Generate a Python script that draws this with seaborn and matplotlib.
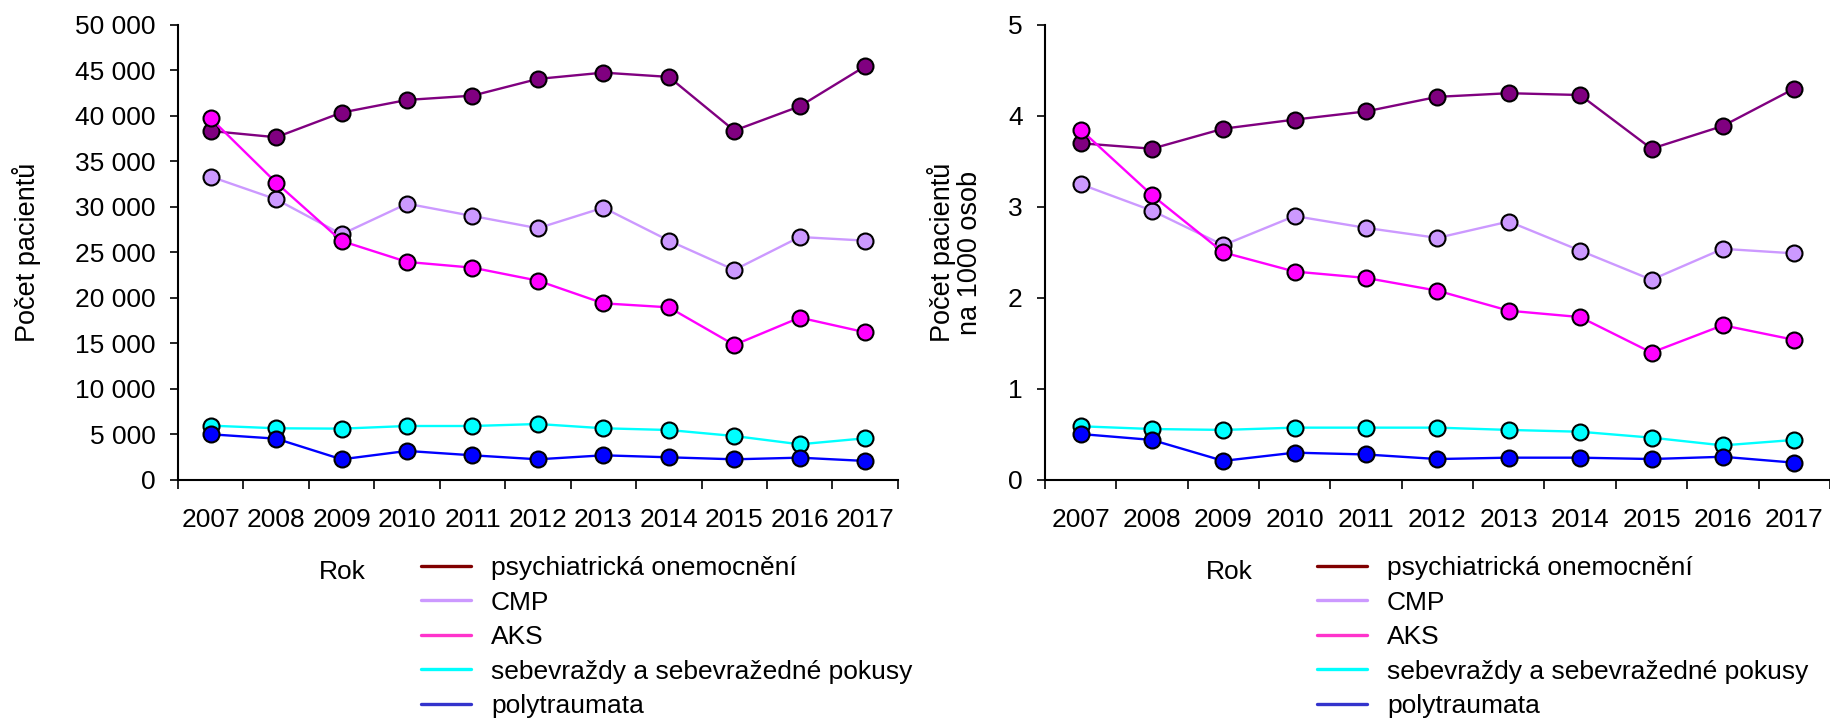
import numpy as np
import pandas as pd
import matplotlib
matplotlib.use("Agg")
import matplotlib.pyplot as plt
import seaborn as sns
from matplotlib.lines import Line2D
from matplotlib.ticker import FuncFormatter

roky = list(range(2007, 2018))
kategorie = ["psychiatrická onemocnění", "CMP", "AKS",
             "sebevraždy a sebevražedné pokusy", "polytraumata"]

# absolutni pocty pacientu
psych_pocet = [38350, 37660, 40370, 41760, 42230, 44070, 44760, 44290, 38390, 41060, 45460]
cmp_pocet = [33330, 30840, 27000, 30360, 29010, 27660, 29920, 26300, 23080, 26700, 26300]
aks_pocet = [39740, 32670, 26260, 23960, 23330, 21900, 19410, 18970, 14840, 17840, 16230]
sebevr_pocet = [5970, 5680, 5640, 5930, 5930, 6150, 5680, 5490, 4830, 3920, 4580]
poly_pocet = [5020, 4540, 2270, 3190, 2710, 2270, 2710, 2490, 2270, 2450, 2090]

# pocty na 1000 osob
psych_na1000 = [3.70, 3.64, 3.86, 3.96, 4.05, 4.21, 4.25, 4.23, 3.64, 3.89, 4.30]
cmp_na1000 = [3.25, 2.96, 2.58, 2.90, 2.77, 2.66, 2.84, 2.52, 2.20, 2.54, 2.49]
aks_na1000 = [3.85, 3.13, 2.50, 2.29, 2.22, 2.08, 1.86, 1.79, 1.40, 1.70, 1.54]
sebevr_na1000 = [0.59, 0.56, 0.55, 0.575, 0.575, 0.575, 0.55, 0.53, 0.465, 0.38, 0.44]
poly_na1000 = [0.505, 0.44, 0.21, 0.30, 0.28, 0.23, 0.245, 0.245, 0.23, 0.255, 0.19]

barvy_car = ["#800080", "#CC99FF", "#FF00FF", "#00FFFF", "#0000FF"]
barvy_legenda = ["#800000", "#CC99FF", "#FF33CC", "#00FFFF", "#3333CC"]


def dlouha_tabulka(serie):
    radky = []
    for nazev, hodnoty in zip(kategorie, serie):
        for rok, h in zip(roky, hodnoty):
            radky.append({"Rok": rok, "kategorie": nazev, "hodnota": h})
    return pd.DataFrame(radky)


df_pocet = dlouha_tabulka([psych_pocet, cmp_pocet, aks_pocet, sebevr_pocet, poly_pocet])
df_na1000 = dlouha_tabulka([psych_na1000, cmp_na1000, aks_na1000, sebevr_na1000, poly_na1000])

sns.set_theme(style="ticks")
plt.rcParams["font.family"] = ["Liberation Sans", "DejaVu Sans"]
plt.rcParams["font.size"] = 19
plt.rcParams["text.color"] = "black"
plt.rcParams["axes.labelcolor"] = "black"

fig = plt.figure(figsize=(18.31, 7.21), dpi=100)
ax1 = fig.add_axes([0.0972, 0.3343, 0.3932, 0.6311])
ax2 = fig.add_axes([0.5707, 0.3343, 0.4287, 0.6311])

paleta = dict(zip(kategorie, barvy_car))

for ax, df in [(ax1, df_pocet), (ax2, df_na1000)]:
    sns.lineplot(
        data=df, x="Rok", y="hodnota", hue="kategorie", hue_order=kategorie,
        palette=paleta, marker="o", markersize=11.5,
        markeredgecolor="black", markeredgewidth=1.5,
        linewidth=1.7, errorbar=None, legend=False, ax=ax,
    )
    ax.set_xlim(2006.5, 2017.5)
    ax.set_xticks(roky)
    ax.set_xticklabels([str(r) for r in roky])
    ax.set_xticks(np.arange(2006.5, 2018, 1), minor=True)
    ax.tick_params(axis="x", which="major", length=0, pad=20, labelsize=19, colors="black")
    ax.tick_params(axis="x", which="minor", length=6.5, width=1.2, direction="out", color="black")
    ax.tick_params(axis="y", length=6, width=1.2, direction="out", pad=10, labelsize=19, colors="black")
    ax.set_xlabel("")
    for s in ["top", "right"]:
        ax.spines[s].set_visible(False)
    for s in ["left", "bottom"]:
        ax.spines[s].set_linewidth(1.5)
        ax.spines[s].set_color("black")

ax1.set_ylim(0, 50000)
ax1.set_yticks(np.arange(0, 50001, 5000))
ax1.yaxis.set_major_formatter(FuncFormatter(lambda v, p: f"{v:,.0f}".replace(",", " ")))
ax1.set_ylabel("Počet pacientů", fontsize=19.5)
ax1.yaxis.set_label_coords(-0.19, 0.5)

ax2.set_ylim(0, 5)
ax2.set_yticks(np.arange(0, 6, 1))
ax2.set_ylabel("Počet pacientů\nna 1000 osob", fontsize=19.5, linespacing=1.05)
ax2.yaxis.set_label_coords(-0.079, 0.5)

# legenda pod kazdym grafem, vlevo od ni popis osy "Rok"
handles = [Line2D([0], [0], color=c, lw=2.4) for c in barvy_legenda]
for x_rok, x_leg in [(342 / 1831, 421 / 1831), (1229 / 1831, 1317 / 1831)]:
    fig.text(x_rok, 1 - 572 / 721, "Rok", ha="center", va="center", fontsize=19)
    fig.legend(handles, kategorie, loc="upper left", bbox_to_anchor=(x_leg, 1 - 556 / 721),
               frameon=False, borderpad=0, borderaxespad=0, handlelength=1.9,
               handletextpad=0.75, labelspacing=0.4, fontsize=19)

fig.savefig("out.png", dpi=100)
